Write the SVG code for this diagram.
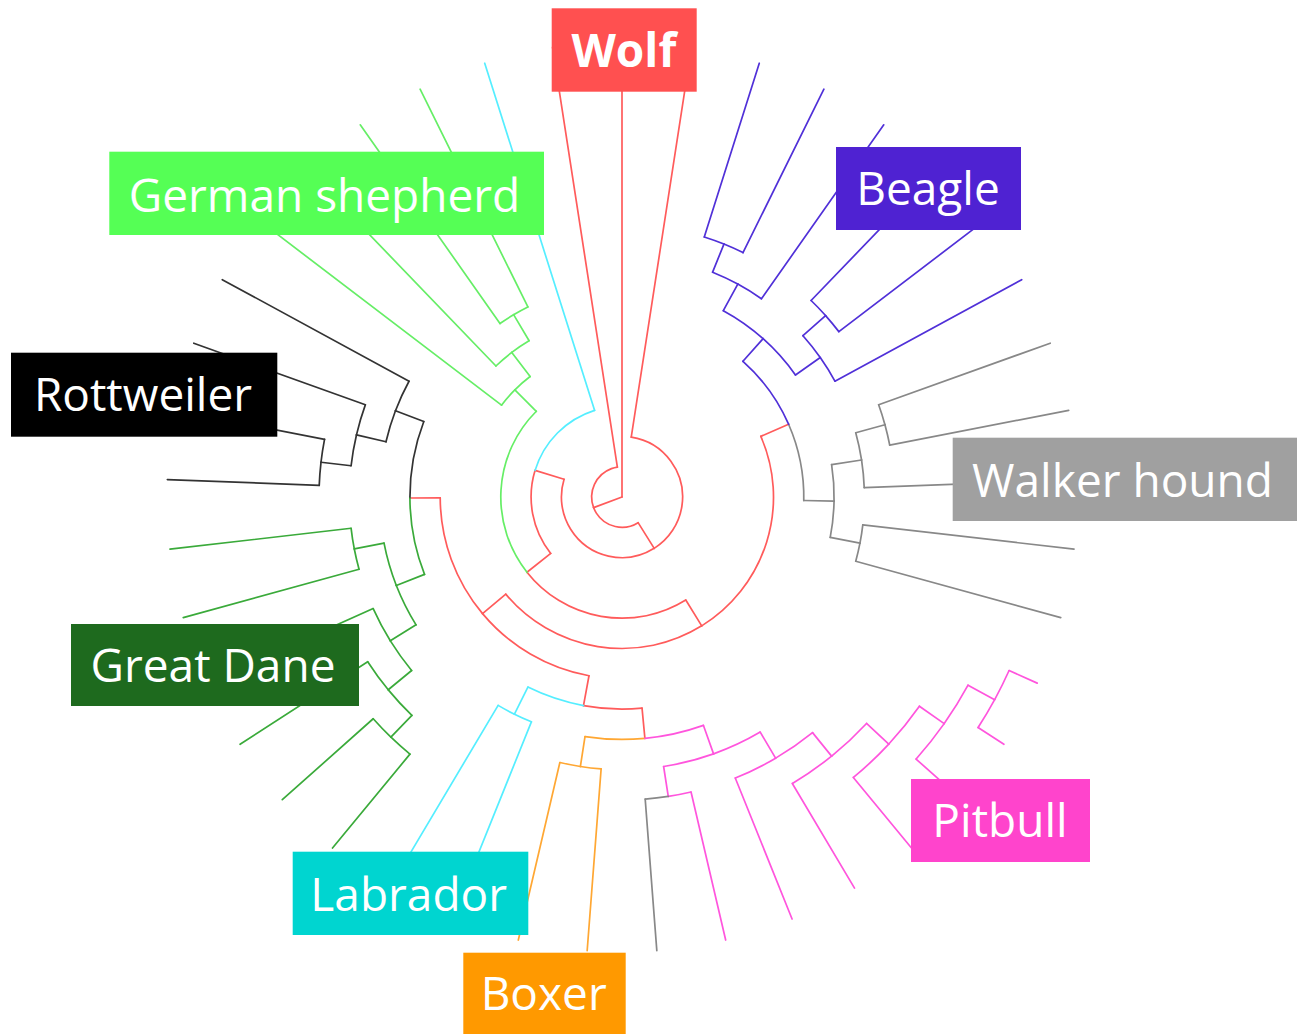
<svg xmlns="http://www.w3.org/2000/svg" width="1303" height="1034" viewBox="0 0 1303 1034">
<style>
#connectors line,#connectors circle{fill:none;stroke-width:1.7;stroke-linecap:round}
.red line,.red circle{stroke:#FF5B5B}
.cyan line,.cyan circle{stroke:#55EEFF}
.lgreen line,.lgreen circle{stroke:#66EE66}
.black line,.black circle{stroke:#333333}
.dgreen line,.dgreen circle{stroke:#3AAA3A}
.orange line,.orange circle{stroke:#FFA733}
.pink line,.pink circle{stroke:#FF55DD}
.gray line,.gray circle{stroke:#888888}
.blue line,.blue circle{stroke:#5030D8}
.lbl text{font-family:"Open Sans","Noto Sans","Liberation Sans",sans-serif;font-size:46px;fill:#FFFFFF;text-anchor:middle}
</style>
<rect width="1303" height="1034" fill="#FFFFFF"/>
<g id="connectors" transform="translate(622,497)">
<g class="red">
<line x1="0" x2="455" transform="rotate(-90)"/>
<line x1="0" x2="30.3" transform="rotate(-200.438)"/>
<circle r="30.3" pathLength="360" stroke-dasharray="101.658 360" transform="rotate(-200.438)"/>
<line x1="30.3" x2="455" transform="rotate(-98.780)"/>
<circle r="30.3" pathLength="360" stroke-dasharray="101.657 360" transform="rotate(-302.095)"/>
<line x1="30.3" x2="60.6" transform="rotate(-302.095)"/>
<circle r="60.6" pathLength="360" stroke-dasharray="139.127 360" transform="rotate(-302.095)"/>
<line x1="60.6" x2="90.9" transform="rotate(-162.968)"/>
<circle r="60.6" pathLength="360" stroke-dasharray="139.125 360" transform="rotate(-441.220)"/>
<line x1="60.6" x2="455" transform="rotate(-441.220)"/>
<circle r="90.9" pathLength="360" stroke-dasharray="55.407 360" transform="rotate(-218.375)"/>
<line x1="90.9" x2="121.2" transform="rotate(-218.375)"/>
<circle r="121.2" pathLength="360" stroke-dasharray="83.378 360" transform="rotate(-301.753)"/>
<line x1="121.2" x2="151.5" transform="rotate(-301.753)"/>
<circle r="151.5" pathLength="360" stroke-dasharray="81.847 360" transform="rotate(-301.753)"/>
<line x1="151.5" x2="181.8" transform="rotate(-219.906)"/>
<circle r="151.5" pathLength="360" stroke-dasharray="81.845 360" transform="rotate(-383.598)"/>
<line x1="151.5" x2="181.8" transform="rotate(-383.598)"/>
<circle r="181.8" pathLength="360" stroke-dasharray="39.632 360" transform="rotate(-219.906)"/>
<line x1="181.8" x2="212.1" transform="rotate(-180.274)"/>
<circle r="181.8" pathLength="360" stroke-dasharray="39.633 360" transform="rotate(-259.539)"/>
<line x1="181.8" x2="212.1" transform="rotate(-259.539)"/>
<circle r="212.1" pathLength="360" stroke-dasharray="15.881 360" transform="rotate(-275.420)"/>
<line x1="212.1" x2="242.4" transform="rotate(-275.420)"/>
</g>
<g class="cyan">
<circle r="90.9" pathLength="360" stroke-dasharray="55.407 360" transform="rotate(-162.968)"/>
<line x1="90.9" x2="455" transform="rotate(-107.561)"/>
<circle r="212.1" pathLength="360" stroke-dasharray="15.880 360" transform="rotate(-259.539)"/>
<line x1="212.1" x2="242.4" transform="rotate(-243.659)"/>
<circle r="242.4" pathLength="360" stroke-dasharray="4.391 360" transform="rotate(-243.659)"/>
<line x1="242.4" x2="455" transform="rotate(-239.268)"/>
<circle r="242.4" pathLength="360" stroke-dasharray="4.390 360" transform="rotate(-248.049)"/>
<line x1="242.4" x2="455" transform="rotate(-248.049)"/>
</g>
<g class="lgreen">
<circle r="121.2" pathLength="360" stroke-dasharray="83.375 360" transform="rotate(-218.375)"/>
<line x1="121.2" x2="151.5" transform="rotate(-135)"/>
<circle r="151.5" pathLength="360" stroke-dasharray="7.683 360" transform="rotate(-142.683)"/>
<line x1="151.5" x2="455" transform="rotate(-142.683)"/>
<circle r="151.5" pathLength="360" stroke-dasharray="7.683 360" transform="rotate(-135)"/>
<line x1="151.5" x2="181.8" transform="rotate(-127.317)"/>
<circle r="181.8" pathLength="360" stroke-dasharray="6.585 360" transform="rotate(-133.902)"/>
<line x1="181.8" x2="455" transform="rotate(-133.902)"/>
<circle r="181.8" pathLength="360" stroke-dasharray="6.585 360" transform="rotate(-127.317)"/>
<line x1="181.8" x2="212.1" transform="rotate(-120.732)"/>
<circle r="212.1" pathLength="360" stroke-dasharray="4.391 360" transform="rotate(-120.732)"/>
<line x1="212.1" x2="455" transform="rotate(-116.341)"/>
<circle r="212.1" pathLength="360" stroke-dasharray="4.390 360" transform="rotate(-125.122)"/>
<line x1="212.1" x2="455" transform="rotate(-125.122)"/>
</g>
<g class="black">
<circle r="212.1" pathLength="360" stroke-dasharray="21.128 360" transform="rotate(-180.274)"/>
<line x1="212.1" x2="242.4" transform="rotate(-159.146)"/>
<circle r="242.4" pathLength="360" stroke-dasharray="7.683 360" transform="rotate(-159.146)"/>
<line x1="242.4" x2="455" transform="rotate(-151.463)"/>
<circle r="242.4" pathLength="360" stroke-dasharray="7.683 360" transform="rotate(-166.829)"/>
<line x1="242.4" x2="272.7" transform="rotate(-166.829)"/>
<circle r="272.7" pathLength="360" stroke-dasharray="6.585 360" transform="rotate(-166.829)"/>
<line x1="272.7" x2="455" transform="rotate(-160.244)"/>
<circle r="272.7" pathLength="360" stroke-dasharray="6.586 360" transform="rotate(-173.415)"/>
<line x1="272.7" x2="303" transform="rotate(-173.415)"/>
<circle r="303" pathLength="360" stroke-dasharray="4.391 360" transform="rotate(-173.415)"/>
<line x1="303" x2="455" transform="rotate(-169.024)"/>
<circle r="303" pathLength="360" stroke-dasharray="4.390 360" transform="rotate(-177.805)"/>
<line x1="303" x2="455" transform="rotate(-177.805)"/>
</g>
<g class="dgreen">
<circle r="212.1" pathLength="360" stroke-dasharray="21.128 360" transform="rotate(-201.402)"/>
<line x1="212.1" x2="242.4" transform="rotate(-201.402)"/>
<circle r="242.4" pathLength="360" stroke-dasharray="10.426 360" transform="rotate(-201.402)"/>
<line x1="242.4" x2="272.7" transform="rotate(-190.976)"/>
<circle r="242.4" pathLength="360" stroke-dasharray="10.427 360" transform="rotate(-211.829)"/>
<line x1="242.4" x2="272.7" transform="rotate(-211.829)"/>
<circle r="272.7" pathLength="360" stroke-dasharray="4.391 360" transform="rotate(-190.976)"/>
<line x1="272.7" x2="455" transform="rotate(-186.585)"/>
<circle r="272.7" pathLength="360" stroke-dasharray="4.390 360" transform="rotate(-195.366)"/>
<line x1="272.7" x2="455" transform="rotate(-195.366)"/>
<circle r="272.7" pathLength="360" stroke-dasharray="7.683 360" transform="rotate(-211.829)"/>
<line x1="272.7" x2="455" transform="rotate(-204.146)"/>
<circle r="272.7" pathLength="360" stroke-dasharray="7.683 360" transform="rotate(-219.512)"/>
<line x1="272.7" x2="303" transform="rotate(-219.512)"/>
<circle r="303" pathLength="360" stroke-dasharray="6.585 360" transform="rotate(-219.512)"/>
<line x1="303" x2="455" transform="rotate(-212.927)"/>
<circle r="303" pathLength="360" stroke-dasharray="6.586 360" transform="rotate(-226.098)"/>
<line x1="303" x2="333.3" transform="rotate(-226.098)"/>
<circle r="333.3" pathLength="360" stroke-dasharray="4.391 360" transform="rotate(-226.098)"/>
<line x1="333.3" x2="455" transform="rotate(-221.707)"/>
<circle r="333.3" pathLength="360" stroke-dasharray="4.390 360" transform="rotate(-230.488)"/>
<line x1="333.3" x2="455" transform="rotate(-230.488)"/>
</g>
<g class="orange">
<circle r="242.4" pathLength="360" stroke-dasharray="14.2 360" transform="rotate(-275.420)"/>
<line x1="242.4" x2="272.7" transform="rotate(-261.220)"/>
<circle r="272.7" pathLength="360" stroke-dasharray="4.391 360" transform="rotate(-261.220)"/>
<line x1="272.7" x2="455" transform="rotate(-256.829)"/>
<circle r="272.7" pathLength="360" stroke-dasharray="4.390 360" transform="rotate(-265.610)"/>
<line x1="272.7" x2="455" transform="rotate(-265.610)"/>
</g>
<g class="pink">
<circle r="242.4" pathLength="360" stroke-dasharray="14.196 360" transform="rotate(-289.616)"/>
<line x1="242.4" x2="272.7" transform="rotate(-289.616)"/>
<circle r="272.7" pathLength="360" stroke-dasharray="10.836 360" transform="rotate(-289.616)"/>
<line x1="272.7" x2="303" transform="rotate(-278.780)"/>
<circle r="272.7" pathLength="360" stroke-dasharray="10.841 360" transform="rotate(-300.457)"/>
<line x1="272.7" x2="303" transform="rotate(-300.457)"/>
<circle r="303" pathLength="360" stroke-dasharray="4.391 360" transform="rotate(-283.171)"/>
<line x1="303" x2="455" transform="rotate(-283.171)"/>
<circle r="303" pathLength="360" stroke-dasharray="8.506 360" transform="rotate(-300.457)"/>
<line x1="303" x2="455" transform="rotate(-291.951)"/>
<circle r="303" pathLength="360" stroke-dasharray="8.506 360" transform="rotate(-308.963)"/>
<line x1="303" x2="333.3" transform="rotate(-308.963)"/>
<circle r="333.3" pathLength="360" stroke-dasharray="8.231 360" transform="rotate(-308.963)"/>
<line x1="333.3" x2="455" transform="rotate(-300.732)"/>
<circle r="333.3" pathLength="360" stroke-dasharray="8.232 360" transform="rotate(-317.195)"/>
<line x1="333.3" x2="363.6" transform="rotate(-317.195)"/>
<circle r="363.6" pathLength="360" stroke-dasharray="7.683 360" transform="rotate(-317.195)"/>
<line x1="363.6" x2="455" transform="rotate(-309.512)"/>
<circle r="363.6" pathLength="360" stroke-dasharray="7.683 360" transform="rotate(-324.878)"/>
<line x1="363.6" x2="393.9" transform="rotate(-324.878)"/>
<circle r="393.9" pathLength="360" stroke-dasharray="6.585 360" transform="rotate(-324.878)"/>
<line x1="393.9" x2="455" transform="rotate(-318.293)"/>
<circle r="393.9" pathLength="360" stroke-dasharray="6.585 360" transform="rotate(-331.463)"/>
<line x1="393.9" x2="424.2" transform="rotate(-331.463)"/>
<circle r="424.2" pathLength="360" stroke-dasharray="4.390 360" transform="rotate(-331.463)"/>
<line x1="424.2" x2="455" transform="rotate(-327.073)"/>
<circle r="424.2" pathLength="360" stroke-dasharray="4.391 360" transform="rotate(-335.854)"/>
<line x1="424.2" x2="455" transform="rotate(-335.854)"/>
</g>
<g class="gray">
<circle r="303" pathLength="360" stroke-dasharray="4.390 360" transform="rotate(-278.780)"/>
<line x1="303" x2="455" transform="rotate(-274.390)"/>
<circle r="181.8" pathLength="360" stroke-dasharray="24.696 360" transform="rotate(-383.598)"/>
<line x1="181.8" x2="212.1" transform="rotate(-358.902)"/>
<circle r="212.1" pathLength="360" stroke-dasharray="9.878 360" transform="rotate(-358.902)"/>
<line x1="212.1" x2="242.4" transform="rotate(-349.024)"/>
<circle r="212.1" pathLength="360" stroke-dasharray="9.878 360" transform="rotate(-368.780)"/>
<line x1="212.1" x2="242.4" transform="rotate(-368.780)"/>
<circle r="242.4" pathLength="360" stroke-dasharray="4.390 360" transform="rotate(-349.024)"/>
<line x1="242.4" x2="455" transform="rotate(-344.634)"/>
<circle r="242.4" pathLength="360" stroke-dasharray="4.391 360" transform="rotate(-353.415)"/>
<line x1="242.4" x2="455" transform="rotate(-353.415)"/>
<circle r="242.4" pathLength="360" stroke-dasharray="6.585 360" transform="rotate(-368.780)"/>
<line x1="242.4" x2="455" transform="rotate(-362.195)"/>
<circle r="242.4" pathLength="360" stroke-dasharray="6.586 360" transform="rotate(-375.366)"/>
<line x1="242.4" x2="272.7" transform="rotate(-375.366)"/>
<circle r="272.7" pathLength="360" stroke-dasharray="4.390 360" transform="rotate(-375.366)"/>
<line x1="272.7" x2="455" transform="rotate(-370.976)"/>
<circle r="272.7" pathLength="360" stroke-dasharray="4.390 360" transform="rotate(-379.756)"/>
<line x1="272.7" x2="455" transform="rotate(-379.756)"/>
</g>
<g class="blue">
<circle r="181.8" pathLength="360" stroke-dasharray="24.695 360" transform="rotate(-408.293)"/>
<line x1="181.8" x2="212.1" transform="rotate(-408.293)"/>
<circle r="212.1" pathLength="360" stroke-dasharray="13.171 360" transform="rotate(-408.293)"/>
<line x1="212.1" x2="242.4" transform="rotate(-395.122)"/>
<circle r="212.1" pathLength="360" stroke-dasharray="13.170 360" transform="rotate(-421.463)"/>
<line x1="212.1" x2="242.4" transform="rotate(-421.463)"/>
<circle r="242.4" pathLength="360" stroke-dasharray="6.585 360" transform="rotate(-395.122)"/>
<line x1="242.4" x2="455" transform="rotate(-388.537)"/>
<circle r="242.4" pathLength="360" stroke-dasharray="6.585 360" transform="rotate(-401.707)"/>
<line x1="242.4" x2="272.7" transform="rotate(-401.707)"/>
<circle r="272.7" pathLength="360" stroke-dasharray="4.390 360" transform="rotate(-401.707)"/>
<line x1="272.7" x2="455" transform="rotate(-397.317)"/>
<circle r="272.7" pathLength="360" stroke-dasharray="4.391 360" transform="rotate(-406.098)"/>
<line x1="272.7" x2="455" transform="rotate(-406.098)"/>
<circle r="242.4" pathLength="360" stroke-dasharray="6.585 360" transform="rotate(-421.463)"/>
<line x1="242.4" x2="455" transform="rotate(-414.878)"/>
<circle r="242.4" pathLength="360" stroke-dasharray="6.586 360" transform="rotate(-428.049)"/>
<line x1="242.4" x2="272.7" transform="rotate(-428.049)"/>
<circle r="272.7" pathLength="360" stroke-dasharray="4.390 360" transform="rotate(-428.049)"/>
<line x1="272.7" x2="455" transform="rotate(-423.659)"/>
<circle r="272.7" pathLength="360" stroke-dasharray="4.390 360" transform="rotate(-432.439)"/>
<line x1="272.7" x2="455" transform="rotate(-432.439)"/>
</g>
</g>
<g id="label-wolf" class="lbl"><rect x="551.7" y="8.3" width="145" height="83.4" fill="#FF5050"/><text x="623.8" y="66.7" font-weight="bold">Wolf</text></g>
<g id="label-german-shepherd" class="lbl"><rect x="109.3" y="151.7" width="434.7" height="83.3" fill="#55FF55"/><text x="324.5" y="211.7">German shepherd</text></g>
<g id="label-beagle" class="lbl"><rect x="836" y="147" width="185" height="83" fill="#4F22D2"/><text x="928" y="205">Beagle</text></g>
<g id="label-rottweiler" class="lbl"><rect x="11" y="352.7" width="266.3" height="84" fill="#000000"/><text x="143" y="411">Rottweiler</text></g>
<g id="label-walker-hound" class="lbl"><rect x="952.7" y="437.7" width="344.3" height="83.3" fill="#A0A0A0"/><text x="1122.5" y="496.7">Walker hound</text></g>
<g id="label-great-dane" class="lbl"><rect x="71" y="624" width="288" height="82" fill="#1E6A1E"/><text x="213" y="682">Great Dane</text></g>
<g id="label-labrador" class="lbl"><rect x="292.7" y="851.7" width="235.6" height="83.3" fill="#00D5D0"/><text x="408.7" y="910.7">Labrador</text></g>
<g id="label-boxer" class="lbl"><rect x="463.3" y="952.7" width="162.4" height="81.3" fill="#FF9900"/><text x="543.7" y="1010">Boxer</text></g>
<g id="label-pitbull" class="lbl"><rect x="911" y="779" width="179" height="83" fill="#FF44CC"/><text x="1000" y="837">Pitbull</text></g>
</svg>
